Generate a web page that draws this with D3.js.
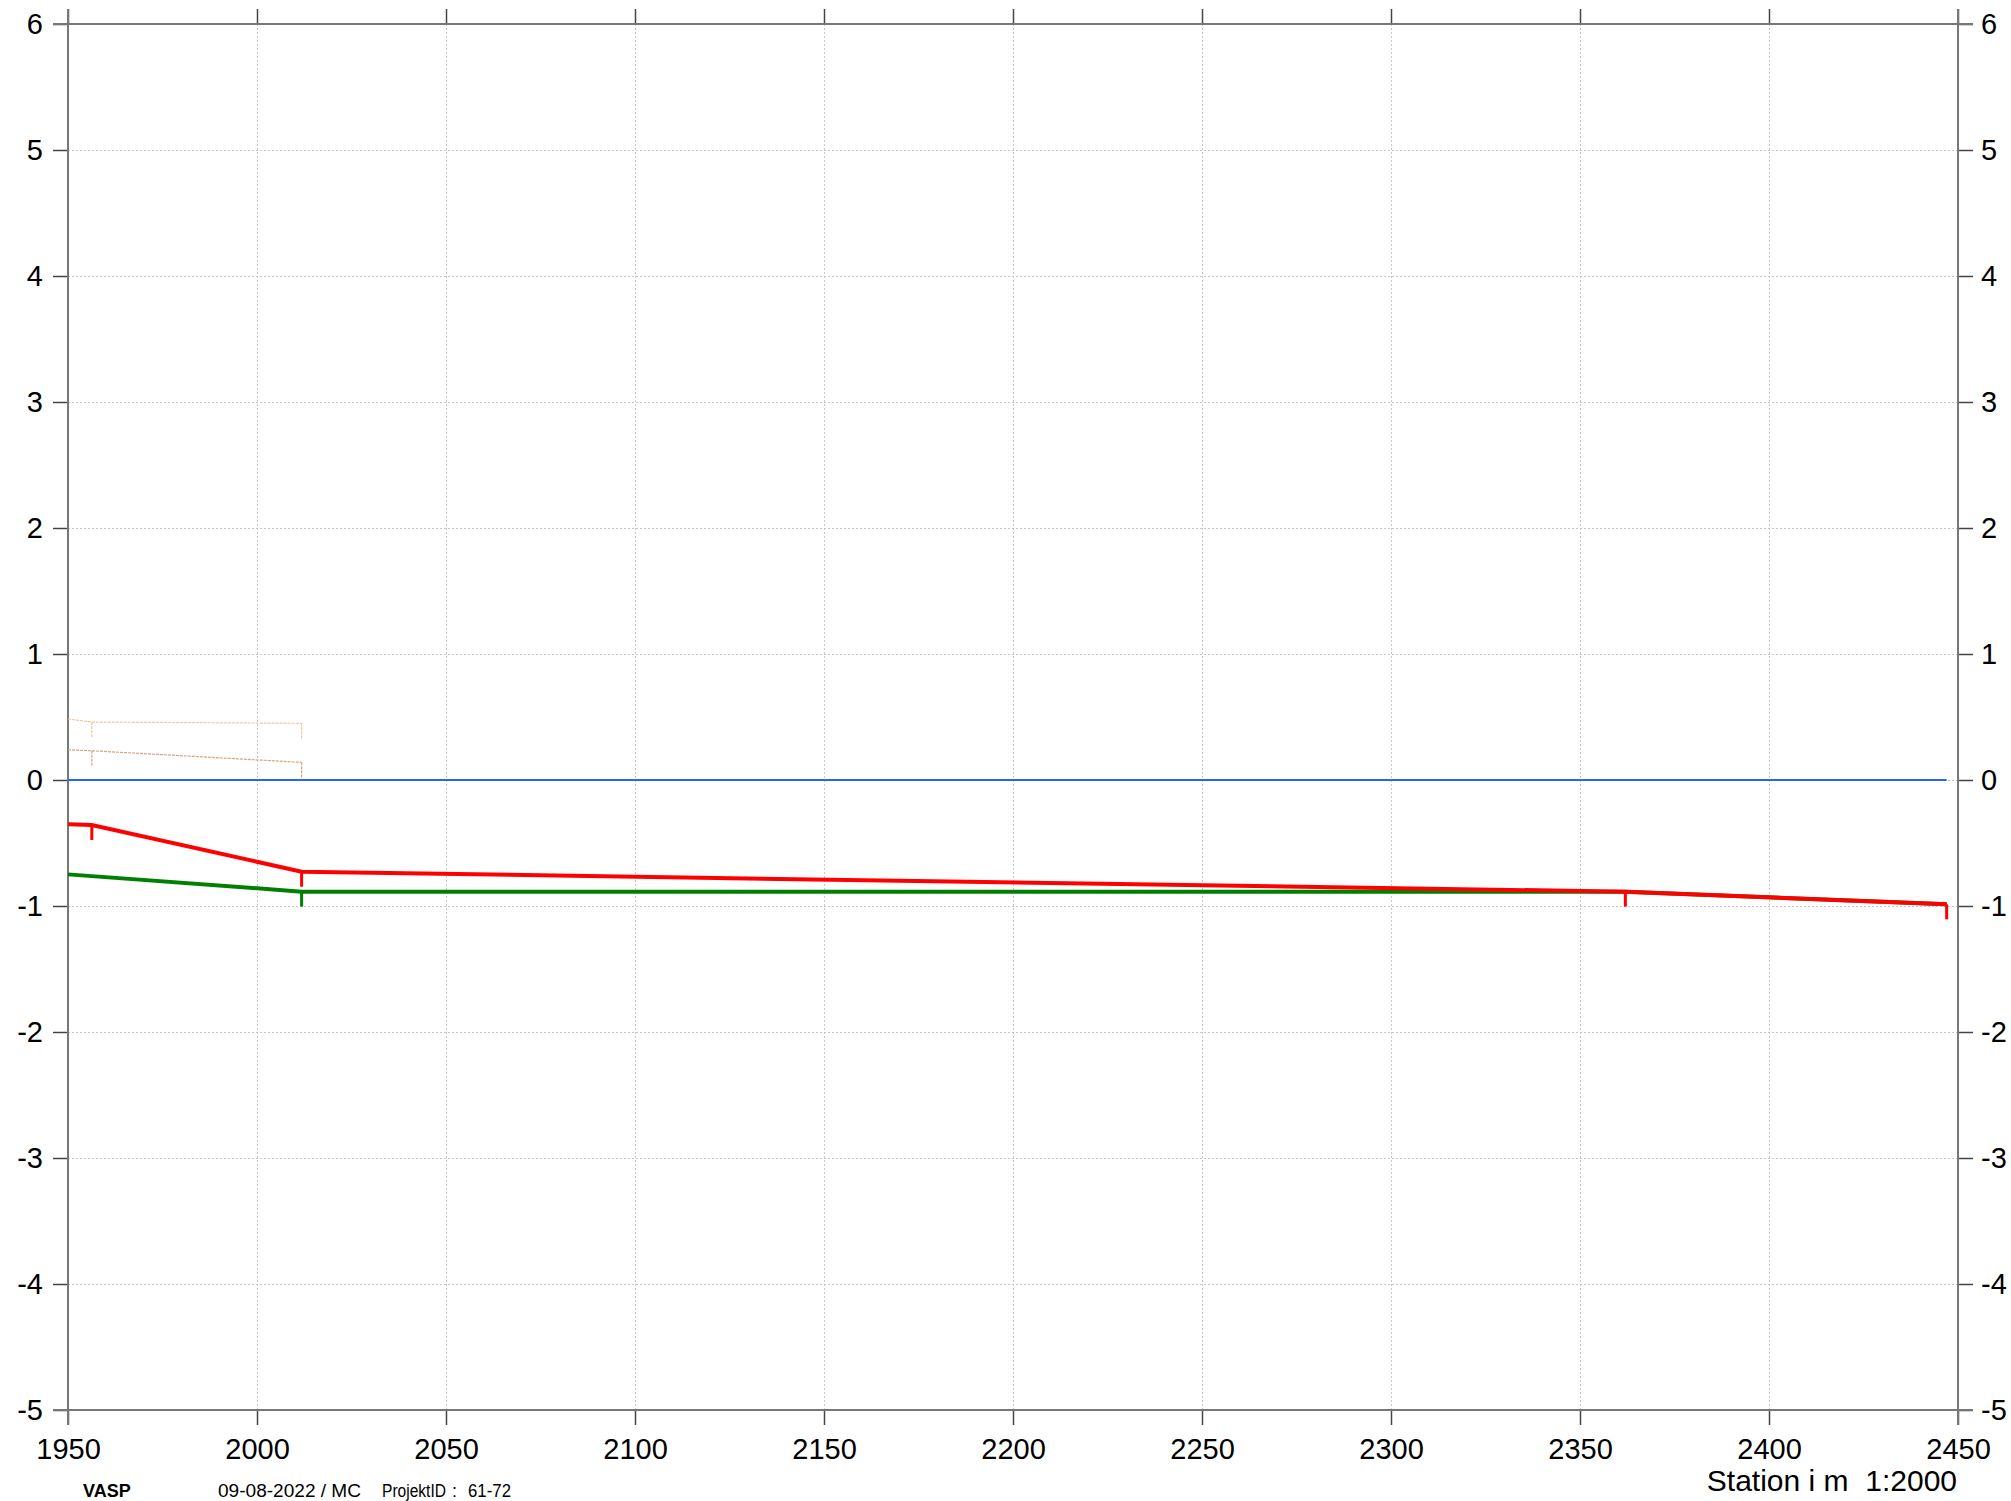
<!DOCTYPE html>
<html>
<head>
<meta charset="utf-8">
<script src="https://cdn.jsdelivr.net/npm/d3@7"></script>
<style>
  body { margin: 0; background: #fff; }
  svg { display: block; font-family: "Liberation Sans", Arial, sans-serif; }
</style>
</head>
<body>
<div id="chart"></div>
<script>
// station ticks / level ticks
const stationTicks = [1950, 2000, 2050, 2100, 2150, 2200, 2250, 2300, 2350, 2400, 2450];
const levelTicks = [-5, -4, -3, -2, -1, 0, 1, 2, 3, 4, 5, 6];

// red profile (terrain/top)
const redStations = [1950, 1956.3, 2011.8, 2362, 2447];
const redLevels = [-0.352, -0.357, -0.728, -0.886, -0.987];
const redMarks = [1956.3, 2011.8, 2362, 2447];

// green profile (bottom)
const greenStations = [1950, 2011.8, 2362, 2447];
const greenLevels = [-0.749, -0.886, -0.886, -0.987];
const greenMarks = [2011.8];

// water level
const blueStations = [1950, 2447];
const blueLevels = [0, 0];

// dashed orange profiles
const orangeUpStations = [1950, 1956.3, 2011.8];
const orangeUpLevels = [0.484, 0.46, 0.45];
const orangeLowStations = [1950, 1956.3, 2011.8];
const orangeLowLevels = [0.24, 0.232, 0.14];
const orangeMarks = [1956.3, 2011.8];

const W = 2011, H = 1501;
const marginLeft = 68, plotRight = 1958, plotTop = 24, plotBottom = 1410;
const tickLen = 15;

const x = d3.scaleLinear().domain([1950, 2450]).range([marginLeft, plotRight]);
const y = d3.scaleLinear().domain([-5, 6]).range([plotBottom, plotTop]);

const fmt = d => String(d);

const svg = d3.select('#chart').append('svg')
  .attr('width', W).attr('height', H);

// grid
const grid = svg.append('g').attr('class', 'grid')
  .attr('stroke', '#c8c8c8').attr('stroke-width', 1).attr('stroke-dasharray', '2,2');
grid.selectAll('.gx').data(stationTicks.slice(1, -1)).enter().append('line')
  .attr('x1', d => x(d) + 0.5).attr('x2', d => x(d) + 0.5)
  .attr('y1', plotTop).attr('y2', plotBottom);
grid.selectAll('.gy').data(levelTicks.slice(1, -1)).enter().append('line')
  .attr('y1', d => y(d) + 0.5).attr('y2', d => y(d) + 0.5)
  .attr('x1', marginLeft).attr('x2', plotRight);

// axes
function styleAxis(g) {
  g.select('.domain').remove();
  g.selectAll('.tick line').attr('stroke', '#444').attr('stroke-width', 1.5);
  g.selectAll('.tick text').attr('font-size', 29).attr('fill', '#000')
    .attr('font-family', '"Liberation Sans", Arial, sans-serif');
}

svg.append('g').attr('transform', `translate(${marginLeft},0)`)
  .call(d3.axisLeft(y).tickValues(levelTicks).tickFormat(fmt)
    .tickSize(tickLen).tickPadding(10))
  .call(styleAxis);

svg.append('g').attr('transform', `translate(${plotRight},0)`)
  .call(d3.axisRight(y).tickValues(levelTicks).tickFormat(fmt)
    .tickSize(tickLen).tickPadding(8))
  .call(styleAxis);

svg.append('g').attr('transform', `translate(0,${plotBottom})`)
  .call(d3.axisBottom(x).tickValues(stationTicks).tickFormat(fmt)
    .tickSize(tickLen).tickPadding(13))
  .call(styleAxis);

svg.append('g').attr('transform', `translate(0,${plotTop})`)
  .call(d3.axisTop(x).tickValues(stationTicks).tickFormat('')
    .tickSize(tickLen))
  .call(styleAxis);

// frame
const frame = svg.append('g').attr('stroke', '#777').attr('stroke-width', 2);
frame.append('line').attr('x1', marginLeft - tickLen).attr('x2', plotRight + tickLen)
  .attr('y1', plotTop).attr('y2', plotTop);
frame.append('line').attr('x1', marginLeft - tickLen).attr('x2', plotRight + tickLen)
  .attr('y1', plotBottom).attr('y2', plotBottom);
frame.append('line').attr('x1', marginLeft).attr('x2', marginLeft)
  .attr('y1', plotTop - tickLen).attr('y2', plotBottom + tickLen);
frame.append('line').attr('x1', plotRight).attr('x2', plotRight)
  .attr('y1', plotTop - tickLen).attr('y2', plotBottom + tickLen);

// profiles
const line = d3.line().x(d => x(d[0])).y(d => y(d[1]));
const zip = (a, b) => a.map((s, i) => [s, b[i]]);
const levelAt = (st, lv, s) => d3.scaleLinear().domain(st).range(lv)(s);

function profile(st, lv, color, width, dash, marks, markLen, markWidth) {
  const g = svg.append('g');
  g.append('path').datum(zip(st, lv))
    .attr('d', line).attr('fill', 'none')
    .attr('stroke', color).attr('stroke-width', width)
    .attr('stroke-dasharray', dash);
  if (marks) {
    g.selectAll('line').data(marks).enter().append('line')
      .attr('x1', d => x(d)).attr('x2', d => x(d))
      .attr('y1', d => y(levelAt(st, lv, d)))
      .attr('y2', d => y(levelAt(st, lv, d)) + markLen)
      .attr('stroke', color).attr('stroke-width', markWidth)
      .attr('stroke-dasharray', dash);
  }
}

profile(orangeUpStations, orangeUpLevels, '#f6c79c', 1.2, '3,1', orangeMarks, 15, 1.2);
profile(orangeLowStations, orangeLowLevels, '#d9a27c', 1.2, '3,1', orangeMarks, 15, 1.2);
profile(blueStations, blueLevels, '#2563ff', 2, null, null);
profile(greenStations, greenLevels, '#008000', 4, null, greenMarks, 15, 3);
profile(redStations, redLevels, '#ff0000', 4, null, redMarks, 15, 3);

// footer texts
const foot = svg.append('g').attr('fill', '#000');
foot.append('text').attr('x', 83).attr('y', 1497)
  .attr('font-size', 18).attr('font-weight', 'bold').text('VASP');
foot.append('text').attr('x', 218).attr('y', 1497)
  .attr('font-size', 18).attr('textLength', 143).attr('lengthAdjust', 'spacingAndGlyphs')
  .text('09-08-2022 / MC');
foot.append('text').attr('x', 382).attr('y', 1497)
  .attr('font-size', 18).attr('textLength', 64).attr('lengthAdjust', 'spacingAndGlyphs')
  .text('ProjektID');
foot.append('text').attr('x', 452).attr('y', 1497)
  .attr('font-size', 18).text(':');
foot.append('text').attr('x', 468).attr('y', 1497)
  .attr('font-size', 18).attr('textLength', 43).attr('lengthAdjust', 'spacingAndGlyphs')
  .text('61-72');
foot.append('text').attr('x', 1957).attr('y', 1491)
  .attr('font-size', 30).attr('text-anchor', 'end')
  .attr('xml:space', 'preserve').style('white-space', 'pre')
  .text('Station i m  1:2000');
</script>
</body>
</html>
